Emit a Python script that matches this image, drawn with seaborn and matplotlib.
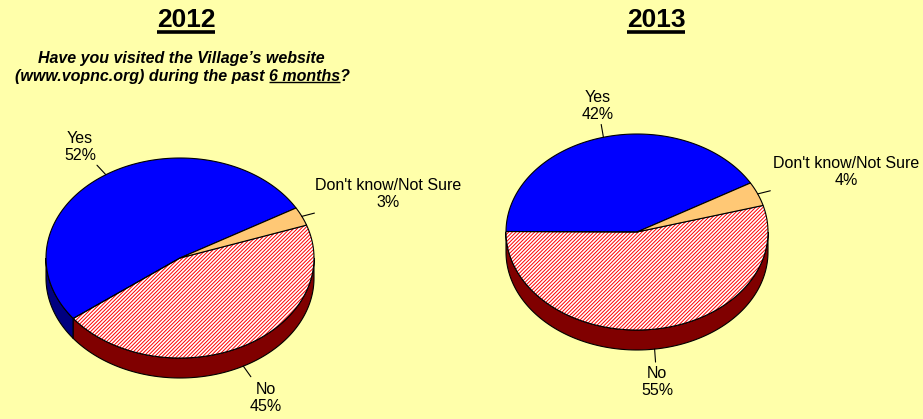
import numpy as np
import matplotlib
matplotlib.use("Agg")
import matplotlib.pyplot as plt
import seaborn as sns
from matplotlib.patches import Polygon

# Survey answers (percent of respondents)
answers = ["Yes", "No", "Don't know/Not Sure"]
pct_2012 = [52, 45, 3]
pct_2013 = [42, 55, 4]
years = ["2012", "2013"]
question_line1 = "Have you visited the Village\u2019s website"
question_line2_head = "(www.vopnc.org) during the past "
question_line2_under = "6 months"
question_line2_tail = "?"

# Styling
BG = "#FFFFAA"
top_colors = ["#0000FF", "#FFFFFF", "#FFC875"]
side_colors = ["#000080", "#800000", "#C8904A"]
hatches = [None, "/////////", None]

sns.set_style("white")
plt.rcParams["font.family"] = ["Liberation Sans", "DejaVu Sans"]
plt.rcParams["text.color"] = "black"
plt.rcParams["hatch.linewidth"] = 0.7
plt.rcParams["hatch.color"] = "#FF0000"

W, H = 923, 419
fig = plt.figure(figsize=(W / 100, H / 100), dpi=100, facecolor=BG)
ax = fig.add_axes([0, 0, 1, 1])
ax.set_xlim(0, W)
ax.set_ylim(H, 0)
ax.axis("off")
ax.set_facecolor(BG)


def ell(cx, cy, rx, ry, t):
    r = np.radians(t)
    return cx + rx * np.cos(r), cy - ry * np.sin(r)


def pie3d(cx, cy, rx, ry, depth, values, start, label_pos):
    total = float(sum(values))
    spans = []
    a0 = start
    for v in values:
        a1 = a0 + 360.0 * v / total
        spans.append((a0, a1))
        a0 = a1
    # side walls (visible front half only)
    for (a0, a1), sc in zip(spans, side_colors):
        for lo, hi in [(180, 360), (540, 720)]:
            s, e = max(a0, lo), min(a1, hi)
            if e <= s:
                continue
            t = np.linspace(s, e, 120)
            x, y = ell(cx, cy, rx, ry, t)
            pts = np.concatenate([np.column_stack([x, y]),
                                  np.column_stack([x[::-1], y[::-1] + depth])])
            ax.add_patch(Polygon(pts, closed=True, facecolor=sc,
                                 edgecolor="black", lw=0.8, zorder=1))
    # top faces
    for (a0, a1), tc, hc in zip(spans, top_colors, hatches):
        t = np.linspace(a0, a1, 200)
        x, y = ell(cx, cy, rx, ry, t)
        pts = np.vstack([[cx, cy], np.column_stack([x, y])])
        if hc:
            ax.add_patch(Polygon(pts, closed=True, facecolor=tc,
                                 edgecolor="#FF0000", hatch=hc, lw=0, zorder=2))
            ax.add_patch(Polygon(pts, closed=True, fill=False,
                                 edgecolor="black", lw=0.8, zorder=3))
        else:
            ax.add_patch(Polygon(pts, closed=True, facecolor=tc,
                                 edgecolor="black", lw=0.8, zorder=3))
    # labels with leader lines
    for (a0, a1), name, v, (lx, ly) in zip(spans, answers, values, label_pos):
        mid = (a0 + a1) / 2.0
        sx, sy = ell(cx, cy, rx, ry, mid)
        if np.sin(np.radians(mid)) < 0:
            sy += depth
        d = np.array([lx - sx, ly - sy])
        d = d / np.hypot(*d)
        ex, ey = sx + 13 * d[0], sy + 13 * d[1]
        ax.plot([sx, ex], [sy, ey], color="black", lw=0.8, zorder=4)
        ax.text(lx, ly, f"{name}\n{v}%", ha="center", va="center",
                fontsize=11.5, linespacing=1.15, color="black", zorder=5)


pie3d(180, 258, 134, 100, 20, pct_2012, 30,
      [(80, 147), (266, 398), (388, 194)])
pie3d(637, 232, 131, 98, 20, pct_2013, 30,
      [(598, 106), (657, 382), (846, 172)])

# titles
title_texts = []
for year, x in zip(years, [186, 656]):
    title_texts.append(ax.text(x, 20, year, ha="center", va="center",
                               fontsize=19, fontweight="bold"))

q1 = ax.text(181, 58, question_line1, ha="center", va="center",
             fontsize=11.5, fontweight="bold", fontstyle="italic")
full2 = question_line2_head + question_line2_under + question_line2_tail
q2 = ax.text(182, 77, full2, ha="center", va="center",
             fontsize=11.5, fontweight="bold", fontstyle="italic")

fig.canvas.draw()
renderer = fig.canvas.get_renderer()


def data_bbox(txt):
    bb = txt.get_window_extent(renderer)
    return bb.x0, bb.x1, H - bb.y1, H - bb.y0


# underline the year titles
for t in title_texts:
    x0, x1, y0, y1 = data_bbox(t)
    ax.plot([x0, x1], [y1, y1], color="black", lw=2.6,
            solid_capstyle="butt")

# underline "6 months"
x0, x1, y0, y1 = data_bbox(q2)
probe = ax.text(0, 0, question_line2_head + question_line2_under,
                fontsize=11.5, fontweight="bold", fontstyle="italic")
probe_u = ax.text(0, 0, question_line2_under,
                  fontsize=11.5, fontweight="bold", fontstyle="italic")
w_pre = probe.get_window_extent(renderer).width
w_u = probe_u.get_window_extent(renderer).width
probe.remove()
probe_u.remove()
ux1 = x0 + w_pre
ux0 = ux1 - w_u
ax.plot([ux0, ux1], [y1 - 2.5, y1 - 2.5], color="black", lw=1.0,
        solid_capstyle="butt")

fig.savefig("out.png", dpi=100, facecolor=BG)
